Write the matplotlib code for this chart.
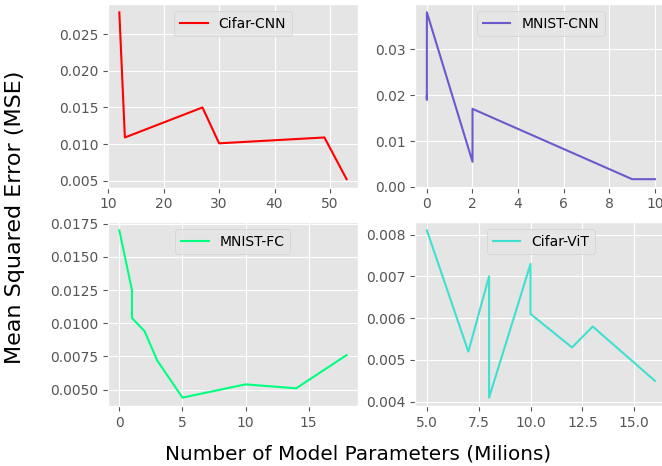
import matplotlib
matplotlib.use('Agg')
import matplotlib.pyplot as plt

# data
cifar_cnn_x = [12, 13, 27, 30, 49, 53]
cifar_cnn_y = [0.0280, 0.0109, 0.0150, 0.0101, 0.0109, 0.0052]

mnist_cnn_x = [0, 0, 0, 0, 2, 2, 9, 10]
mnist_cnn_y = [0.0190, 0.0200, 0.0192, 0.0380, 0.0055, 0.0170, 0.0017, 0.0017]

mnist_fc_x = [0, 1, 1, 2, 3, 5, 10, 14, 18]
mnist_fc_y = [0.0170, 0.0125, 0.0104, 0.0094, 0.0072, 0.0044, 0.0054, 0.0051, 0.0076]

cifar_vit_x = [5, 7, 8, 8, 10, 10, 12, 13, 16]
cifar_vit_y = [0.0081, 0.0052, 0.0070, 0.0041, 0.0073, 0.0061, 0.0053, 0.0058, 0.0045]

plt.style.use('ggplot')
fig = plt.figure(figsize=(6.62, 4.66), dpi=100)

# axes placed to match the reference layout (right column runs off the edge)
ax1 = fig.add_axes([0.1631, 0.5976, 0.3776, 0.3938])
ax2 = fig.add_axes([0.6276, 0.5976, 0.3790, 0.3938])
ax3 = fig.add_axes([0.1631, 0.1288, 0.3776, 0.3948])
ax4 = fig.add_axes([0.6276, 0.1288, 0.3790, 0.3948])

ax1.plot(cifar_cnn_x, cifar_cnn_y, color='red', label='Cifar-CNN')
ax2.plot(mnist_cnn_x, mnist_cnn_y, color='slateblue', label='MNIST-CNN')
ax3.plot(mnist_fc_x, mnist_fc_y, color='springgreen', label='MNIST-FC')
ax4.plot(cifar_vit_x, cifar_vit_y, color='turquoise', label='Cifar-ViT')

for ax in (ax1, ax2, ax3, ax4):
    ax.legend(loc='upper center')

fig.text(0.022, 0.534, 'Mean Squared Error (MSE)', rotation=90,
         ha='center', va='center', fontsize=16)
fig.text(0.541, 0.026, 'Number of Model Parameters (Milions)',
         ha='center', va='center', fontsize=14.4)

fig.savefig('out.png', dpi=100)
